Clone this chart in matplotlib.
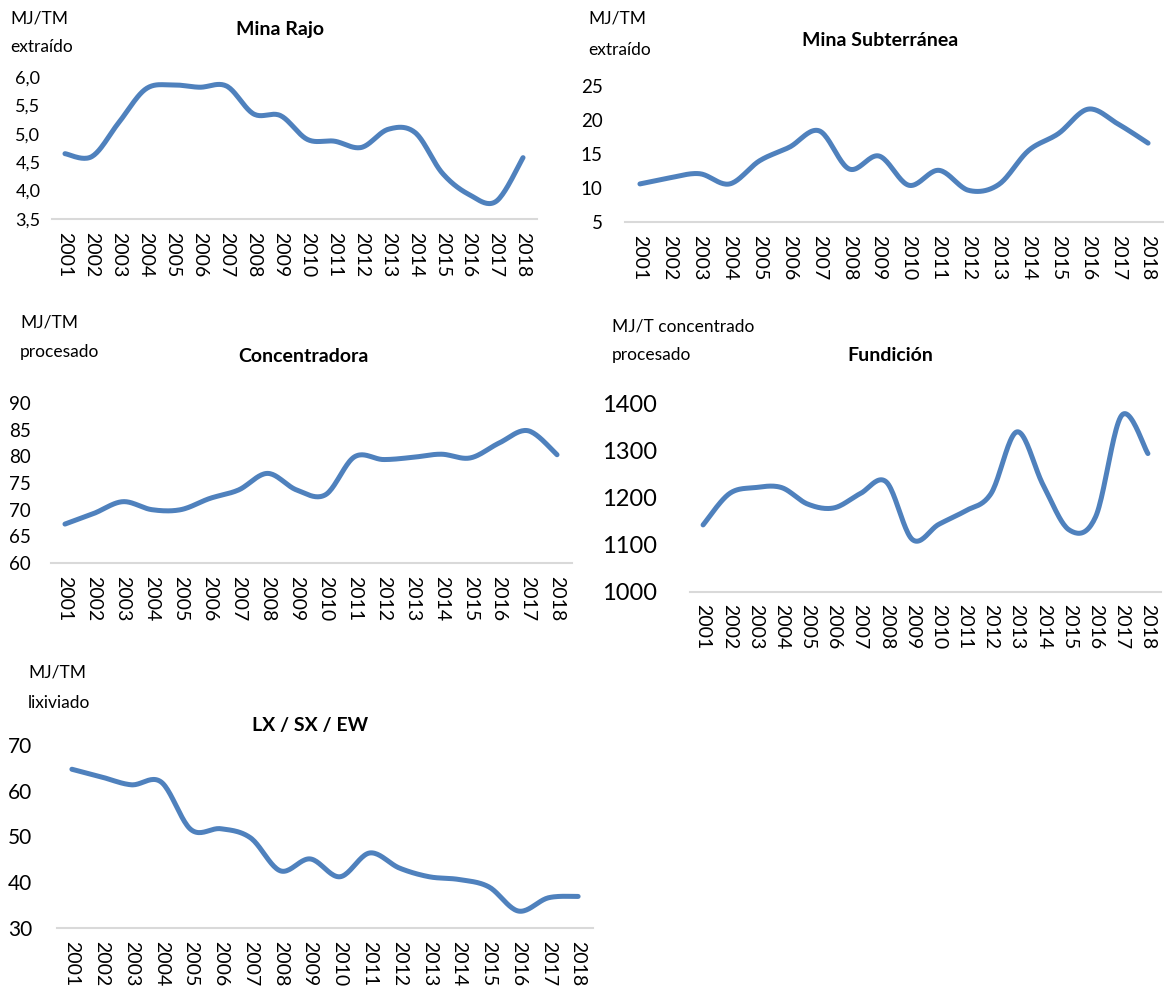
import matplotlib.pyplot as plt
import numpy as np
from matplotlib.ticker import FuncFormatter

plt.rcParams['font.family'] = ['Lato', 'DejaVu Sans']

W, H = 1164, 988
BLUE = '#4F81BD'

years = [str(y) for y in range(2001, 2019)]

# MJ/TM extraido
mina_rajo = [4.65, 4.60, 5.20, 5.79, 5.86, 5.82, 5.84, 5.35, 5.32, 4.90, 4.87, 4.76,
             5.08, 5.02, 4.31, 3.93, 3.81, 4.58]
mina_subterranea = [10.6, 11.5, 12.1, 10.6, 14.0, 16.0, 18.4, 12.8, 14.7, 10.4, 12.6, 9.65,
                    10.5, 15.5, 18.0, 21.6, 19.4, 16.6]
# MJ/TM procesado
concentradora = [67.3, 69.3, 71.5, 70.0, 70.0, 72.1, 73.7, 76.8, 73.7, 72.8, 79.9, 79.4,
                 79.8, 80.4, 79.7, 82.5, 84.8, 80.3]
# MJ/T concentrado procesado
fundicion = [1142, 1208, 1221, 1221, 1186, 1178, 1208, 1233, 1111, 1143, 1171, 1208,
             1339, 1226, 1131, 1159, 1374, 1293]
# MJ/TM lixiviado
lx_sx_ew = [64.7, 63.0, 61.3, 61.9, 51.5, 51.7, 49.7, 42.5, 45.1, 41.2, 46.4, 43.1,
            41.2, 40.6, 39.0, 33.7, 36.6, 36.9]


def smooth(values, n=24):
    """Bezier smoothing like Excel's smoothed line."""
    y = np.asarray(values, float)
    pts = np.column_stack([np.arange(len(y), dtype=float), y])
    p = np.vstack([pts[0], pts, pts[-1]])
    t = np.linspace(0, 1, n)[:, None]
    segs = []
    for i in range(1, len(p) - 2):
        p0, p1, p2, p3 = p[i - 1], p[i], p[i + 1], p[i + 2]
        c1 = p1 + (p2 - p0) / 6
        c2 = p2 - (p3 - p1) / 6
        segs.append((1 - t) ** 3 * p1 + 3 * (1 - t) ** 2 * t * c1
                    + 3 * (1 - t) * t ** 2 * c2 + t ** 3 * p2)
    s = np.vstack(segs)
    return s[:, 0], s[:, 1]


fig = plt.figure(figsize=(W / 100, H / 100), dpi=100)


def panel(box, values, ylim, step, fs_y, pad, comma=False):
    l, r, t, b = box
    ax = fig.add_axes([l / W, 1 - b / H, (r - l) / W, (b - t) / H])
    xs, ys = smooth(values)
    ax.plot(xs, ys, color=BLUE, lw=3.6, solid_capstyle='round', clip_on=False)
    ax.set_xlim(-0.5, len(values) - 0.5)
    ax.set_ylim(*ylim)
    ax.set_yticks(np.arange(ylim[0], ylim[1] + step / 2, step))
    if comma:
        ax.yaxis.set_major_formatter(FuncFormatter(lambda v, _: f"{v:.1f}".replace('.', ',')))
    else:
        ax.yaxis.set_major_formatter(FuncFormatter(lambda v, _: f"{v:.0f}"))
    ax.set_xticks(range(len(years)))
    ax.set_xticklabels(years, rotation=-90, fontsize=14)
    for s in ['top', 'right', 'left']:
        ax.spines[s].set_visible(False)
    ax.spines['bottom'].set_color('#D9D9D9')
    ax.spines['bottom'].set_linewidth(1.5)
    ax.tick_params(length=0, labelcolor='black')
    ax.tick_params(axis='y', labelsize=fs_y, pad=pad)
    ax.tick_params(axis='x', pad=9)
    ax.patch.set_alpha(0)
    return ax


def label(x, y, s, **kw):
    fig.text(x / W, 1 - y / H, s, va='center', **kw)


# Mina Rajo
panel((51.5, 536.5, 77, 219), mina_rajo, (3.5, 6.0), 0.5, 13, 8, comma=True)
label(280, 30, 'Mina Rajo', ha='center', fontsize=14, fontweight='bold')
label(10, 18, 'MJ/TM', fontsize=12.5)
label(10, 47, 'extraído', fontsize=12.5)

# Mina Subterranea
panel((625, 1163, 86, 222), mina_subterranea, (5, 25), 5, 13.5, 16)
label(880, 40, 'Mina Subterránea', ha='center', fontsize=14, fontweight='bold')
label(588, 18, 'MJ/TM', fontsize=12.5)
label(588, 50, 'extraído', fontsize=12.5)

# Concentradora
panel((50.5, 571.5, 403, 563), concentradora, (60, 90), 5, 13.5, 14)
label(303, 357, 'Concentradora', ha='center', fontsize=14, fontweight='bold')
label(20, 322, 'MJ/TM', fontsize=12.5)
label(20, 352, 'procesado', fontsize=12.5)

# Fundicion
panel((690, 1161, 403, 592), fundicion, (1000, 1400), 100, 17, 24)
label(890, 355, 'Fundición', ha='center', fontsize=14, fontweight='bold')
label(612, 327, 'MJ/T concentrado', fontsize=12.5)
label(612, 355, 'procesado', fontsize=12.5)

# LX / SX / EW
panel((57, 593, 745, 928), lx_sx_ew, (30, 70), 10, 15, 18)
label(310, 725, 'LX / SX / EW', ha='center', fontsize=14, fontweight='bold')
label(28, 672, 'MJ/TM', fontsize=12.5)
label(28, 703, 'lixiviado', fontsize=12.5)

fig.savefig('out.png', dpi=100, facecolor='white')
